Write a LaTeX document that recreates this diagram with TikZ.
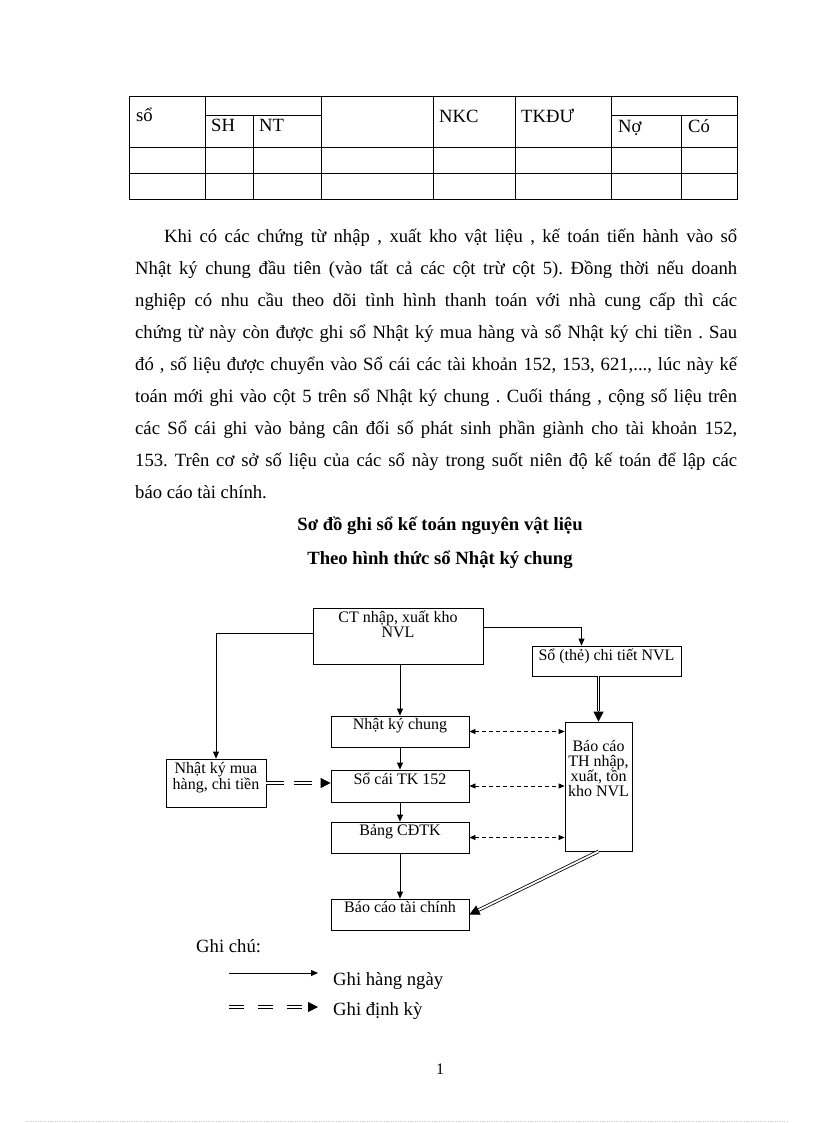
\documentclass[tikz,border=0pt]{standalone}
\usepackage{fontspec}
\setmainfont{Liberation Serif}
\usetikzlibrary{arrows.meta}
\usetikzlibrary{calc}
\frenchspacing

\newcommand{\bodyfont}{\fontsize{18.67}{32}\selectfont}
\newcommand{\diagfont}{\fontsize{16}{15}\selectfont}

\tikzset{
  tbl/.style={line width=0.8pt},
  txt/.style={anchor=base west, inner sep=0pt, font=\bodyfont},
  box/.style={draw, line width=0.8pt, inner sep=0pt},
  boxtext/.style={anchor=north, inner sep=3pt, align=center, font=\diagfont},
  arr/.style={line width=0.8pt, -{Triangle[length=7pt,width=6pt]}},
  dasharr/.style={line width=0.8pt, dash pattern=on 4pt off 3pt,
    {Triangle[length=6pt,width=5pt]}-{Triangle[length=6pt,width=5pt]}},
  dbl/.style={double, double distance=1.8pt, line width=0.8pt},
  bigtip/.style={line width=0.8pt, -{Triangle[length=10pt,width=10pt]}}
}

\begin{document}
\begin{tikzpicture}[x=1pt,y=-1pt]
\useasboundingbox (0,0) rectangle (816,1123);

% table
\draw[tbl] (129,96) rectangle (737,199);
\foreach \y in {147,173} \draw[tbl] (129,\y) -- (737,\y);
\foreach \x in {205,321,433,515,611} \draw[tbl] (\x,96) -- (\x,199);
\foreach \x in {253,681} \draw[tbl] (\x,115) -- (\x,199);
\draw[tbl] (205,115) -- (321,115);
\draw[tbl] (611,115) -- (737,115);

\node[txt] (hso) at (136,122) {sổ};
\node[txt] (hsh) at (211,132) {SH};
\node[txt] (hnt) at (259,132) {NT};
\node[txt] (hnkc) at (439,123) {NKC};
\node[txt] (htkdu) at (521,123) {TKĐƯ};
\node[txt] (hno) at (618,133) {Nợ};
\node[txt] (hco) at (688,133) {Có};

% paragraph
\node[txt] (line1) at (164,242) {\makebox[573pt][s]{Khi có các chứng từ nhập , xuất kho vật liệu , kế toán tiến hành vào sổ}};
\foreach \i/\t in {
  2/{Nhật ký chung đầu tiên (vào tất cả các cột trừ cột 5). Đồng thời nếu doanh},
  3/{nghiệp có nhu cầu theo dõi tình hình thanh toán với nhà cung cấp thì các},
  4/{chứng từ này còn được ghi sổ Nhật ký mua hàng và sổ Nhật ký chi tiền . Sau},
  5/{đó , số liệu được chuyển vào Sổ cái các tài khoản 152, 153, 621,..., lúc này kế},
  6/{toán mới ghi vào cột 5 trên sổ Nhật ký chung . Cuối tháng , cộng số liệu trên},
  7/{các Sổ cái ghi vào bảng cân đối số phát sinh phần giành cho tài khoản 152,},
  8/{153. Trên cơ sở số liệu của các sổ này trong suốt niên độ kế toán để lập các}} {
    \node[txt] (line\i) at (135,{242+32*(\i-1)}) {\makebox[602pt][s]{\t}};
}
\node[txt] (line9) at (135,498) {báo cáo tài chính.};

\node[txt, anchor=base, font=\bodyfont\bfseries] (title1) at (440,530) {Sơ đồ ghi sổ kế toán nguyên vật liệu};
\node[txt, anchor=base, font=\bodyfont\bfseries] (title2) at (440,564) {Theo hình thức sổ Nhật ký chung};

% boxes
\node[box, minimum width=170pt, minimum height=56pt] (ct) at (398,636) {};
\node[box, minimum width=149pt, minimum height=30pt] (sothe) at (606.5,661) {};
\node[box, minimum width=138pt, minimum height=31pt] (nkc) at (400,731.5) {};
\node[box, minimum width=138pt, minimum height=32pt] (cai) at (400,786) {};
\node[box, minimum width=138pt, minimum height=31pt] (bang) at (400,837.5) {};
\node[box, minimum width=138pt, minimum height=31pt] (bctc) at (400,914.5) {};
\node[box, minimum width=67pt, minimum height=129pt] (bcth) at (598.5,786.5) {};
\node[box, minimum width=100pt, minimum height=48pt] (mua) at (216,783) {};

\node[boxtext] (ct-t) at (ct.north) {CT nhập, xuất kho\\NVL};
\node[boxtext] (sothe-t) at (sothe.north) {Sổ (thẻ) chi tiết NVL};
\node[boxtext] (nkc-t) at (nkc.north) {Nhật ký chung};
\node[boxtext] (cai-t) at (cai.north) {Sổ cái TK 152};
\node[boxtext] (bang-t) at (bang.north) {Bảng CĐTK};
\node[boxtext] (bctc-t) at (bctc.north) {Báo cáo tài chính};
\node[boxtext] (bcth-t) at ([yshift=-16pt]bcth.north) {Báo cáo\\TH nhập,\\xuất, tồn\\kho NVL};
\node[boxtext] (mua-t) at ([yshift=-1pt]mua.north) {Nhật ký mua\\hàng, chi tiền};

% daily
\draw[arr] (ct.south -| nkc.north) -- (nkc.north);
\draw[arr] (nkc.south) -- (cai.north);
\draw[arr] (cai.south) -- (bang.north);
\draw[arr] (bang.south) -- (bctc.north);
\draw[arr] ([yshift=3pt]ct.west) -| (mua.north);
\draw[arr] ([yshift=9pt]ct.east) -| ([xshift=-25pt]sothe.north);

% checks
\foreach \b in {nkc,cai,bang}
  \draw[dasharr] (\b.east) -- (\b.east -| bcth.west);

% periodic
\draw[dbl, dash pattern=on 18pt off 10pt] (mua.east) -- ([xshift=-10pt]mua.east -| cai.west);
\draw[bigtip] ([xshift=-10pt]mua.east -| cai.west) -- (mua.east -| cai.west);
\draw[dbl] (sothe.south -| bcth.north) -- ([yshift=11pt]bcth.north);
\draw[bigtip] ([yshift=11pt]bcth.north) -- (bcth.north);
\draw[dbl] (bcth.south) -- ($(bctc.east)!10pt!(bcth.south)$);
\draw[bigtip] ($(bctc.east)!10pt!(bcth.south)$) -- (bctc.east);

% legend
\node[txt] (ghichu) at (196,952) {Ghi chú:};
\coordinate (l1a) at (229,973);
\coordinate (l1b) at (318,973);
\draw[arr] (l1a) -- (l1b);
\node[txt] (hangngay) at (333,985) {Ghi hàng ngày};
\coordinate (l2a) at (229,1007);
\coordinate (l2b) at (308,1007);
\coordinate (l2c) at (318,1007);
\draw[dbl, dash pattern=on 15pt off 14pt] (l2a) -- (l2b);
\draw[bigtip] (l2b) -- (l2c);
\node[txt] (dinhky) at (333,1015) {Ghi định kỳ};

\node[txt, anchor=base, font=\fontsize{16}{16}\selectfont] (pageno) at (440,1074) {1};
\draw[gray!40, dotted] (26,1121) -- (789,1121);
\end{tikzpicture}
\end{document}
